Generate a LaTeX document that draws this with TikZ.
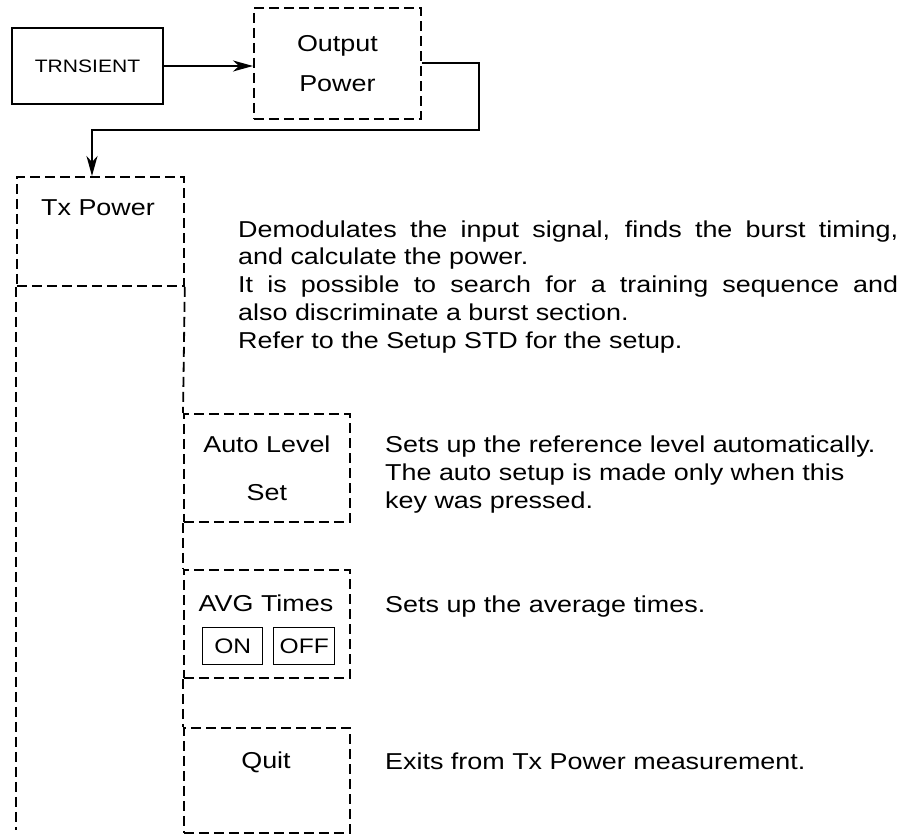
\documentclass[tikz,border=0pt]{standalone}
\usepackage{fontspec}
\setmainfont{Liberation Sans}[FakeStretch=1.17]
\usetikzlibrary{arrows.meta}
\begin{document}
\begin{tikzpicture}[x=1pt,y=-1pt,
  dbox/.style={draw, dash pattern=on 10pt off 5pt, line width=1.8pt, inner sep=0pt, anchor=north west, align=center, font=\fontsize{23}{40}\selectfont},
  sbox/.style={draw, line width=2pt, inner sep=0pt, anchor=north west},
  kbox/.style={draw, line width=1.4pt, inner sep=0pt, anchor=north west, font=\fontsize{21}{24}\selectfont},
  dline/.style={dash pattern=on 10pt off 5pt, line width=1.8pt},
  conn/.style={line width=2pt, -{Stealth[length=20pt,width=11pt,inset=6pt]}},
  txt/.style={inner sep=0pt, anchor=base west, font=\fontsize{23}{26}\selectfont},
  lbl/.style={inner sep=0pt, anchor=base, font=\fontsize{23}{26}\selectfont}]
\useasboundingbox (0,0) rectangle (918,834);
% top row
\node[sbox, minimum width=151pt, minimum height=76pt, font=\fontsize{18}{20}\selectfont] (trn) at (11,27) {TRNSIENT};
\node[dbox, minimum width=167pt, minimum height=111pt] (out) at (253,7) {Output\\Power};
% Tx Power column
\node[dbox, minimum width=167pt, minimum height=109pt] (tx) at (16,176) {};
\node[lbl] (txlbl) at (98,216) {Tx Power};
\coordinate (colL) at (16,830);
\draw[dline] (tx.south west) -- (colL);
% sub boxes
\node[dbox, minimum width=166pt, minimum height=108pt, font=\fontsize{23}{48}\selectfont] (auto) at (183,413) {Auto Level\\Set};
\node[dbox, minimum width=166pt, minimum height=108pt] (avg) at (183,569) {};
\node[lbl] (avglbl) at (266,611) {AVG Times};
\node[kbox, minimum width=60pt, minimum height=37pt] (on) at (202,627) {ON};
\node[kbox, minimum width=61pt, minimum height=37pt] (off) at (273,627) {OFF};
\node[dbox, minimum width=166pt, minimum height=105pt] (quit) at (183,727) {};
\node[lbl] (quitlbl) at (266,768) {Quit};
\draw[dline] (tx.south east) -- (auto.north west);
\draw[dline] (auto.south west) -- (avg.north west);
\draw[dline] (avg.south west) -- (quit.north west);
% connectors
\draw[conn] (trn.east) -- (trn.east -| out.west);
\coordinate (c1) at (479,130);
\coordinate (c2) at (92,130);
\draw[conn] (out.east) -| (c1) -- (c2) -- (c2 |- tx.north);
% descriptions
\node[txt] (p1) at (238,238) {\makebox[660pt][s]{Demodulates the input signal, finds the burst timing,}};
\node[txt] (p2) at (238,265) {and calculate the power.};
\node[txt] (p3) at (238,293) {\makebox[660pt][s]{It is possible to search for a training sequence and}};
\node[txt] (p4) at (238,320) {also discriminate a burst section.};
\node[txt] (p5) at (238,348) {Refer to the Setup STD for the setup.};
\node[txt] (a1) at (385,452) {Sets up the reference level automatically.};
\node[txt] (a2) at (385,480) {The auto setup is made only when this};
\node[txt] (a3) at (385,508) {key was pressed.};
\node[txt] (v1) at (385,612) {Sets up the average times.};
\node[txt] (q1) at (385,769) {Exits from Tx Power measurement.};
\end{tikzpicture}
\end{document}
